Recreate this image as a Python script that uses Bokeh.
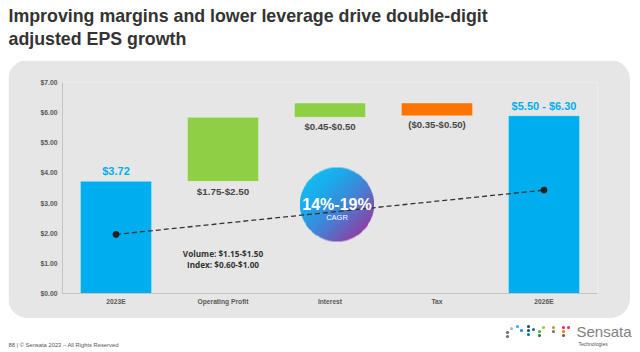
import numpy as np
from bokeh.plotting import figure
from bokeh.layouts import column
from bokeh.models import (Range1d, FixedTicker, NumeralTickFormatter, ColumnDataSource)
from bokeh.embed import file_html
from bokeh.resources import INLINE
from bokeh.core.properties import value

# ---------------- data ----------------
categories = ["2023E", "Operating Profit", "Interest", "Tax", "2026E"]
eps_2023 = 3.72
bridge_deltas = [2.125, 0.475, -0.425]     # Operating Profit, Interest, Tax
eps_2026 = 5.90
bar_labels = ["$3.72", "$1.75-$2.50", "$0.45-$0.50", "($0.35-$0.50)", "$5.50 - $6.30"]
y_ticks = [0, 1, 2, 3, 4, 5, 6, 7]
trend_values = [1.96, 3.43]                # dashed CAGR line at 2023E and 2026E
cagr_text = "14%-19%"
cagr_sub = "CAGR"
op_detail = ["Volume: $1.15-$1.50", "Index: $0.60-$1.00"]
title_lines = ["Improving margins and lower leverage drive double-digit",
               "adjusted EPS growth"]
footer_text = "88  |  \u00a9 Sensata 2023 \u2013 All Rights Reserved"
logo_colors = ["#6d6e71", "#6d6e71", "#b5b5b5", "#29b6f6", "#1e88e5", "#1f4e79",
               "#1f4e79", "#0d7d8c", "#0d7d8c", "#4caf50", "#2e7d32", "#9acd32",
               "#c49a2c", "#8d6e63", "#e91e8c", "#f57c00", "#8d5a2b", "#e53935"]

# ---------------- layout constants ----------------
W = 640
TOP_H, PANEL_H, FOOT_H = 60, 258, 34
PANEL_L, PANEL_W = 8, 622
FL, FR, FT, FB = 54, 33, 22, 25
frame_w = PANEL_W - FL - FR
frame_h = PANEL_H - FT - FB
n = len(categories)
x_pos = [i + 0.5 for i in range(n)]
px_x = frame_w / n
px_y = frame_h / 7.0

BLUE = "#00AEEF"
GREEN = "#8FCF45"
ORANGE = "#FF7300"
TXT = "#474747"
FONT = "Liberation Sans"
PANEL_GREY = "#E6E6E6"


def blank(w, h):
    f = figure(width=w, height=h, output_backend="svg", toolbar_location=None,
               x_range=Range1d(0, w), y_range=Range1d(h, 0),
               x_axis_location=None, y_axis_location=None,
               min_border=0, frame_align=False)
    f.outline_line_color = None
    f.background_fill_color = "white"
    f.border_fill_color = "white"
    f.xgrid.grid_line_color = None
    f.ygrid.grid_line_color = None
    return f


# ---------------- title strip ----------------
ft = blank(W, TOP_H)
ft.text(x=[8, 8], y=[15, 38], text=title_lines, text_font=value(FONT),
        text_font_size="17.8px", text_font_style="bold", text_color="#333333",
        text_align="left", text_baseline="middle")

# ---------------- chart panel ----------------
bottoms, tops = [0.0], [eps_2023]
running = eps_2023
for d in bridge_deltas:
    bottoms.append(min(running, running + d))
    tops.append(max(running, running + d))
    running += d
bottoms.append(0.0)
tops.append(eps_2026)
colors = [BLUE] + [GREEN if d >= 0 else ORANGE for d in bridge_deltas] + [BLUE]

p = figure(width=PANEL_W, height=PANEL_H, output_backend="svg", toolbar_location=None,
           x_range=Range1d(0, n), y_range=Range1d(0, 7),
           min_border_left=FL, min_border_right=FR, min_border_top=FT,
           min_border_bottom=FB, frame_align=False,
           margin=(0, W - PANEL_L - PANEL_W, 0, PANEL_L))
p.styles = {"border-radius": "20px", "overflow": "hidden"}
p.background_fill_color = PANEL_GREY
p.border_fill_color = PANEL_GREY
p.outline_line_color = None
p.xgrid.grid_line_color = None
p.ygrid.grid_line_color = None

p.yaxis.ticker = FixedTicker(ticks=y_ticks)
p.yaxis.formatter = NumeralTickFormatter(format="$0.00")
p.yaxis.major_label_text_font_size = "6.8px"
p.yaxis.major_label_text_font_style = "bold"
p.yaxis.major_label_text_color = "#595959"
p.yaxis.major_label_text_font = FONT
p.yaxis.axis_line_color = "#C4C4C4"
p.yaxis.major_tick_line_color = None
p.yaxis.minor_tick_line_color = None
p.yaxis.major_tick_out = 0
p.yaxis.major_label_standoff = 5

p.xaxis.ticker = FixedTicker(ticks=x_pos)
p.xaxis.major_label_overrides = {x: c for x, c in zip(x_pos, categories)}
p.xaxis.major_label_text_font_size = "6.7px"
p.xaxis.major_label_text_font_style = "bold"
p.xaxis.major_label_text_color = "#595959"
p.xaxis.major_label_text_font = FONT
p.xaxis.axis_line_color = "#C4C4C4"
p.xaxis.major_tick_line_color = None
p.xaxis.minor_tick_line_color = None
p.xaxis.major_tick_out = 0
p.xaxis.major_label_standoff = 4

bar_src = ColumnDataSource(dict(x=x_pos, bottom=bottoms, top=tops, color=colors))
p.vbar(x="x", bottom="bottom", top="top", width=0.665, fill_color="color",
       line_color="white", line_alpha=0.35, line_width=1, source=bar_src)

# CAGR bubble (gradient disc)
cagr_cx, cagr_cy, cagr_r = 2.5 + 7 / px_x, (frame_h + FT - 144) / px_y, 37
N = 160
yy, xx = np.mgrid[0:N, 0:N]
u = (xx + 0.5) / N * 2 - 1
v = (yy + 0.5) / N * 2 - 1
r = np.sqrt(u ** 2 + v ** 2)
alpha = np.clip((1 - r) * cagr_r + 0.5, 0, 1)
t = np.clip((u - v) / (2 * np.sqrt(2)) + 0.5, 0, 1)
stops_t = [0.0, 0.25, 0.6, 1.0]
stops_c = np.array([[22, 186, 242], [28, 170, 236], [70, 128, 212], [142, 64, 166]], float)
rgb = np.stack([np.interp(t, stops_t, stops_c[:, k]) for k in range(3)], axis=-1)
img = np.empty((N, N), dtype=np.uint32)
view = img.view(dtype=np.uint8).reshape((N, N, 4))
for k in range(3):
    view[..., k] = rgb[..., k].astype(np.uint8)
view[..., 3] = (alpha * 255).astype(np.uint8)
rx, ry = cagr_r / px_x, cagr_r / px_y
p.image_rgba(image=[img], x=cagr_cx - rx, y=cagr_cy - ry, dw=2 * rx, dh=2 * ry)

p.line(x=[x_pos[0], x_pos[-1]], y=trend_values, line_color="#333333",
       line_width=1.3, line_dash="5 3")
p.scatter(x=[x_pos[0], x_pos[-1]], y=trend_values, size=6, fill_color="#222222",
          line_color="#222222")

lab_y = [tops[0], bottoms[1], bottoms[2], bottoms[3], tops[4]]
lab_off = [-10, 10, 9, 9, -10]
lab_col = [BLUE, TXT, TXT, TXT, BLUE]
lab_size = ["11px", "9.8px", "9.6px", "9.6px", "11px"]
lab_src = ColumnDataSource(dict(x=x_pos, y=lab_y, text=bar_labels, off=lab_off,
                                color=lab_col, size=lab_size))
p.text(x="x", y="y", text="text", y_offset="off", text_color="color",
       text_font_size="size", text_font_style="bold", text_font=value(FONT),
       text_align="center", text_baseline="middle", source=lab_src)

p.text(x=[x_pos[1], x_pos[1]], y=[1.33, 0.95],
       text=op_detail, text_color="#333333", text_font_size="8.2px",
       text_font_style="bold", text_font=value("Open Sans"),
       text_align="center", text_baseline="middle")

p.text(x=[cagr_cx], y=[cagr_cy], text=[cagr_text], y_offset=[0],
       text_color="white", text_font_size="16px", text_font_style="bold",
       text_font=value(FONT), text_align="center", text_baseline="middle")
p.text(x=[cagr_cx], y=[cagr_cy], text=[cagr_sub], y_offset=[13],
       text_color="white", text_font_size="7.5px", text_font=value(FONT),
       text_align="center", text_baseline="middle")

# ---------------- footer strip ----------------
fb = blank(W, FOOT_H)
fb.text(x=[8], y=[26], text=[footer_text], text_font=value(FONT),
        text_font_size="5.8px", text_color="#555555",
        text_align="left", text_baseline="middle")
logo_x = [507, 507, 511, 517, 521, 528, 528, 528, 533, 539, 539, 543, 553, 553,
          563, 563, 563, 568]
logo_y = [14, 18, 10, 8, 12, 8, 12, 16, 11, 13, 17, 9, 9, 13, 9, 13, 17, 9]
fb.scatter(x=logo_x, y=logo_y, size=3.2, fill_color=logo_colors, line_color=None)
fb.text(x=[576], y=[13], text=["Sensata"], text_font=value(FONT),
        text_font_size="15px", text_color="#7f7f7f",
        text_align="left", text_baseline="middle")
fb.text(x=[578], y=[25], text=["Technologies"], text_font=value(FONT),
        text_font_size="5px", text_color="#555555",
        text_align="left", text_baseline="middle")

layout = column(ft, p, fb, spacing=0)
open("out.html", "w").write(file_html(layout, INLINE))
